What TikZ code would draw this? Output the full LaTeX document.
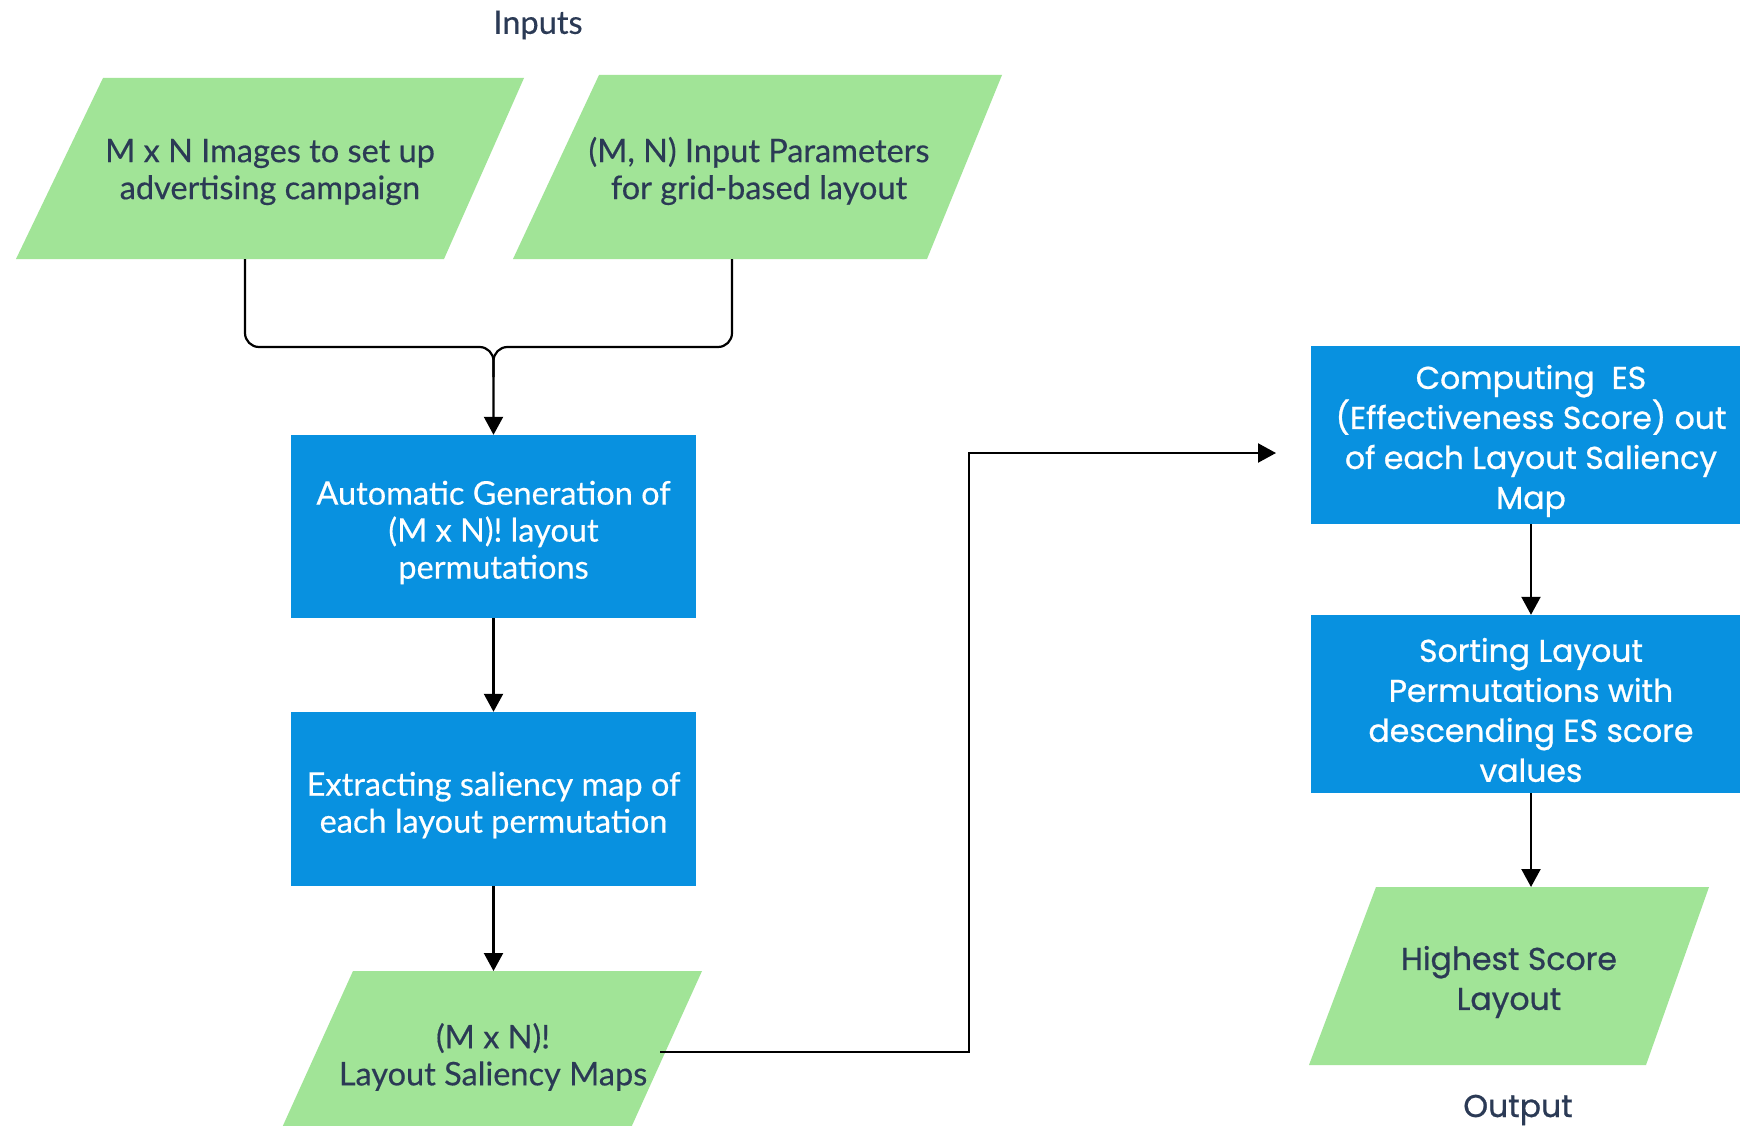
\documentclass[tikz,border=0pt]{standalone}
\usepackage{fontspec}
\setmainfont{Lato}[FakeBold=0.4]
\newfontfamily\rfont{Poppins}[FakeBold=0.8]
\usetikzlibrary{arrows.meta}
\definecolor{gfill}{HTML}{A1E497}
\definecolor{bfill}{HTML}{0891E0}
\definecolor{dtext}{HTML}{2B3A55}
\newcommand{\lowered}[2]{\raisebox{-6pt}[\height][\depth]{\parbox{#1}{\centering #2}}}
\begin{document}
\begin{tikzpicture}[x=1pt,y=-1pt,
  ltxt/.style={font=\fontsize{32.5}{37}\selectfont, text=dtext, align=center},
  wtxt/.style={font=\fontsize{32.5}{37}\selectfont, text=white, align=center},
  rtxt/.style={font=\rfont\fontsize{31.5}{40}\selectfont, align=center},
  bluebox/.style={fill=bfill, minimum width=405pt, minimum height=183pt, inner sep=0pt},
  conn/.style={line width=2.2pt, -{Triangle[length=18pt,width=19pt]}},
  plainline/.style={line width=2.2pt},
]
\useasboundingbox (0,0) rectangle (1740,1126);
\clip (0,0) rectangle (1740,1126);
\fill[white] (0,0) rectangle (1740,1126);

% parallelograms
\fill[gfill] (103,78) -- (524,78) -- (444,259) -- (16,259) -- cycle;
\fill[gfill] (599,75) -- (1002,75) -- (927,259) -- (513,259) -- cycle;
\fill[gfill] (353,971) -- (702,971) -- (625,1141) -- (276,1141) -- cycle;
\fill[gfill] (1376,887) -- (1709,887) -- (1646,1065) -- (1309,1065) -- cycle;

% labels
\node[ltxt] (inputs) at (538,25) {Inputs};
\node[rtxt, text=dtext] (output) at (1518,1110) {Output};

% text nodes on parallelograms
\node[ltxt] (in1) at (270,172) {M x N Images to set up\\advertising campaign};
\node[ltxt] (in2) at (759,171) {(M, N) Input Parameters\\for grid-based layout};
\node[ltxt] (maps) at (493,1057) {(M x N)!\\Layout Saliency Maps};
\node[rtxt, text=dtext] (best) at (1509,982) {Highest Score\\Layout};

% blue boxes
\node[bluebox, wtxt] (gen) at (493.5,526.5) {\lowered{400pt}{Automatic Generation of\\(M x N)! layout\\permutations}};
\node[bluebox, wtxt, minimum height=174pt] (ext) at (493.5,799) {\lowered{400pt}{Extracting saliency map of\\each layout permutation}};
\node[bluebox, rtxt, text=white, minimum width=440pt, minimum height=178pt] (es) at (1531,435) {\lowered{438pt}{Computing\ \ ES\\(Effectiveness Score) out\\of each Layout Saliency\\Map}};
\node[bluebox, rtxt, text=white, minimum width=440pt, minimum height=178pt] (sort) at (1531,704) {\lowered{438pt}{Sorting Layout\\Permutations with\\descending ES score\\values}};

% coordinates
\coordinate (in1b) at (245,259);
\coordinate (in2b) at (732,259);
\coordinate (mrg) at (493.5,347);
\coordinate (p3t) at (493.5,971);
\coordinate (p3r) at (660,1052);
\coordinate (esin) at (1276,453);
\coordinate (p4t) at (1531,887);

% connectors
\draw[conn, rounded corners=14pt] (in1b) |- (mrg) -- (gen.north);
\draw[plainline, rounded corners=14pt] (in2b) |- (mrg) -- ++(0,30);
\draw[conn] (gen) -- (ext);
\draw[conn] (ext) -- (p3t);
\draw[conn] (p3r) -- ++(309,0) |- (esin);
\draw[conn] (es) -- (sort);
\draw[conn] (sort) -- (p4t);
\end{tikzpicture}
\end{document}
